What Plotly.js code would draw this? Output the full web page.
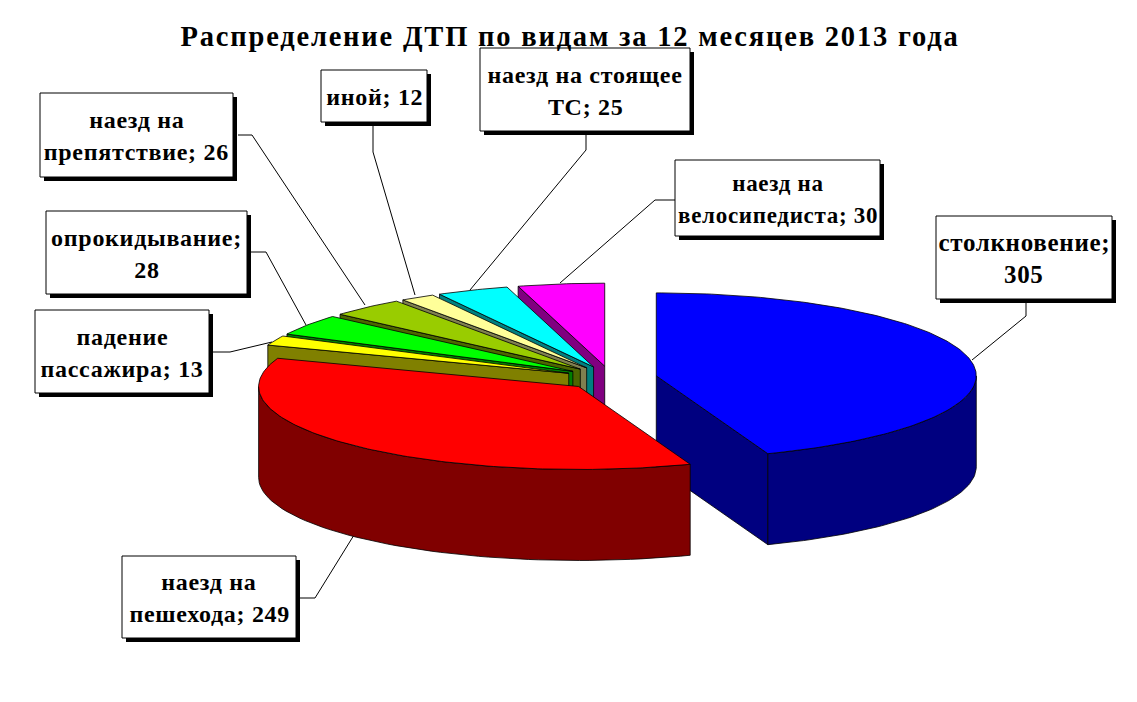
<!DOCTYPE html>
<html><head><meta charset="utf-8">
<script src="https://cdn.plot.ly/plotly-3.0.1.min.js"></script>
<style>html,body{margin:0;padding:0;background:#fff}
#c text.annotation-text{letter-spacing:0.7px}
#c text.gtitle{letter-spacing:1.8px}</style></head>
<body><div id="c" style="width:1137px;height:702px"></div>
<script>
const titleText = "Распределение ДТП по видам за 12 месяцев 2013 года";
const categories = ["столкновение","наезд на пешехода","падение пассажира","опрокидывание","наезд на препятствие","иной","наезд на стоящее ТС","наезд на велосипедиста"];
const values = [305,249,13,28,26,12,25,30];
const topColors = ["#0000ff","#ff0000","#ffff00","#00ff00","#99cc00","#ffff99","#00ffff","#ff00ff"];
const sideColors = ["#000080","#800000","#808000","#008000","#4d6600","#808050","#008080","#800080"];
const firstLineWords = [1,2,1,1,2,2,3,2];
const labelFontSizes = [25,24,24,24,24,24,24,23];
// label box [x0,y0,x1,y1] in page pixels
const boxes = [[936,216,1112,299],[122,556,296,638],[35,310,209,393],[46,211,247,294],[40,93,233,177],[321,70,427,122],[480,48,690,131],[675,160,880,236]];
// leader polylines
const leadersX = [[1026,1026,972],[300,315,354],[213,230,272],[251,266,306],[238,252,365],[373,373,415],[586,586,470],[675,655,560]];
const leadersY = [[303,316,360],[598,598,535],[352,352,342],[252,252,325],[135,135,305],[126,152,295],[135,150,290],[200,200,283]];
const paintOrder = [7,6,5,4,3,2,0,1];

const cx=611, cy=378, rx=320, ry=83, depth=91, explode=46;
const total = values.reduce((a,b)=>a+b,0);
const rad = d=>d*Math.PI/180;
let acc=0;
const slices = values.map(v=>{const s=acc/total*360; acc+=v; return {s,e:acc/total*360};});
const traces=[];
function poly(xs,ys,fill){traces.push({type:'scatter',mode:'lines',x:xs.concat(xs[0]),y:ys.concat(ys[0]),fill:'toself',fillcolor:fill,line:{color:'#000',width:0.8},hoverinfo:'skip',showlegend:false});}
paintOrder.forEach(i=>{
  const {s,e}=slices[i], m=(s+e)/2;
  const ax=cx+explode*Math.sin(rad(m)), ay=cy-explode*ry/rx*Math.cos(rad(m));
  const pt=a=>[ax+rx*Math.sin(rad(a)), ay-ry*Math.cos(rad(a))];
  const side=sideColors[i];
  // radial walls facing the viewer
  const wall=a=>{const p=pt(a);poly([ax,p[0],p[0],ax],[ay,p[1],p[1]+depth,ay+depth],side);};
  if(Math.cos(rad(s-90))<0) wall(s);
  if(Math.cos(rad(e+90))<0) wall(e);
  // outer wall
  const a0=Math.max(s,90), a1=Math.min(e,270);
  if(a1>a0){const xs=[],ys=[],bx=[],by=[];
    for(let a=a0;a<=a1+1e-6;a+=(a1-a0)/60){const p=pt(a);xs.push(p[0]);ys.push(p[1]);bx.unshift(p[0]);by.unshift(p[1]+depth);}
    poly(xs.concat(bx),ys.concat(by),side);}
  // top face
  const xs=[ax],ys=[ay];const n=Math.max(6,Math.ceil(e-s));
  for(let k=0;k<=n;k++){const p=pt(s+(e-s)*k/n);xs.push(p[0]);ys.push(p[1]);}
  poly(xs,ys,topColors[i]);
});
const shapes=[],annotations=[];
values.forEach((v,i)=>{
  let d='M'+leadersX[i].map((x,k)=>x+','+leadersY[i][k]).join('L');
  shapes.push({type:'path',path:d,line:{color:'#000',width:1},layer:'below'});
  const b=boxes[i];
  shapes.push({type:'rect',x0:b[0]+4,y0:b[1]+4,x1:b[2]+4,y1:b[3]+4,fillcolor:'#000',line:{width:0},layer:'above'});
  shapes.push({type:'rect',x0:b[0],y0:b[1],x1:b[2],y1:b[3],fillcolor:'#fff',line:{color:'#000',width:1},layer:'above'});
  const words=(categories[i]+"; "+v).split(' ');
  const lines=[words.slice(0,firstLineWords[i]).join(' '),words.slice(firstLineWords[i]).join(' ')].filter(t=>t);
  const mid=(b[0]+b[2])/2, cyb=(b[1]+b[3])/2;
  lines.forEach((t,k)=>{
    const y=cyb+1+(k-(lines.length-1)/2)*32;
    annotations.push({text:t,x:mid,y:y,xref:'x',yref:'y',xanchor:'center',yanchor:'middle',showarrow:false,font:{family:'"Liberation Serif",serif',size:labelFontSizes[i],color:'#000',weight:700}});
  });
});
Plotly.newPlot('c',traces,{
  width:1137,height:702,margin:{l:0,r:0,t:0,b:0},paper_bgcolor:'#fff',plot_bgcolor:'#fff',showlegend:false,
  title:{text:titleText,x:570/1137,xanchor:'center',y:1-36/702,yanchor:'middle',font:{family:'"Liberation Serif",serif',size:28.5,color:'#000',weight:700}},
  xaxis:{range:[0,1137],visible:false,fixedrange:true},
  yaxis:{range:[702,0],visible:false,fixedrange:true},
  shapes,annotations
},{displayModeBar:false,staticPlot:true});
</script></body></html>
